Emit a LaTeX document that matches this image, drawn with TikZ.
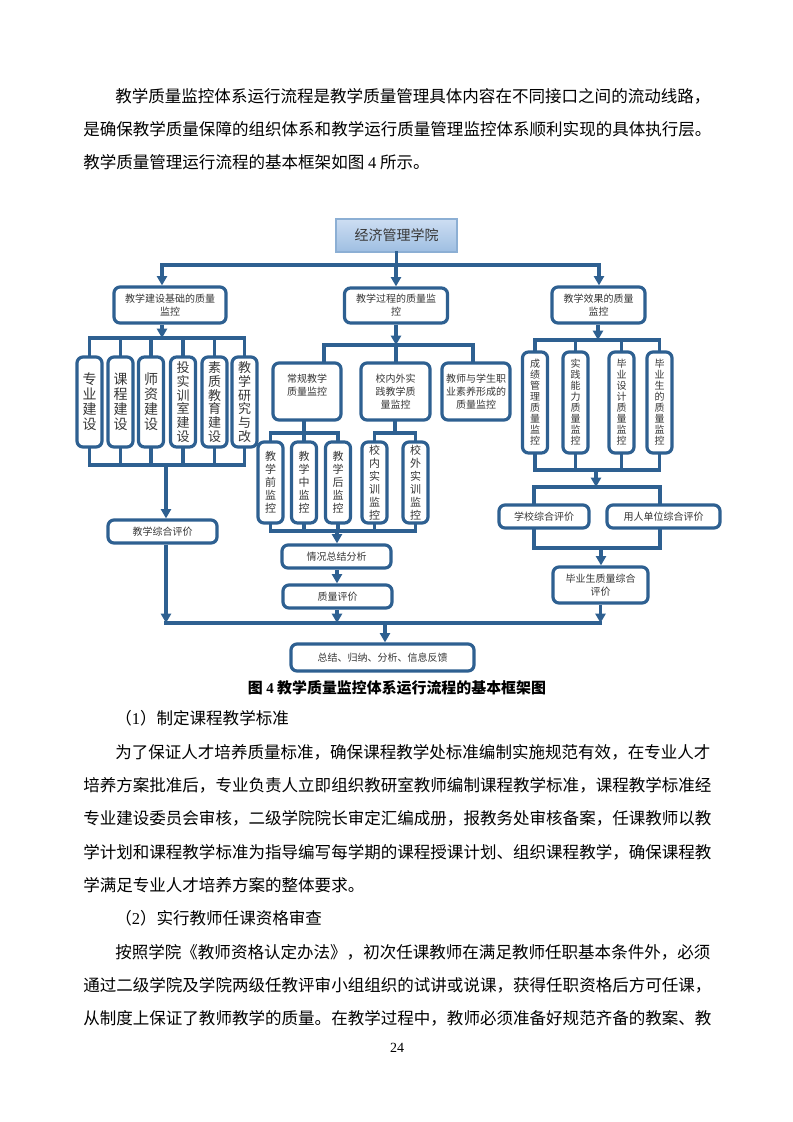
\documentclass[tikz,border=0pt]{standalone}
\usepackage{fontspec}
\newfontfamily\cjk{Noto Sans CJK SC}
\newfontfamily\lat{Liberation Serif}
\usetikzlibrary{arrows.meta}
\definecolor{dblue}{RGB}{46,96,145}
\definecolor{tgray}{RGB}{55,55,55}
\definecolor{topfillA}{RGB}{205,222,242}
\definecolor{topfillB}{RGB}{158,190,226}
\definecolor{topline}{RGB}{140,175,212}
\begin{document}
\begin{tikzpicture}[x=0.75pt,y=-0.75pt,
  box/.style={draw=dblue, line width=2.4pt, rounded corners=4.5pt, fill=white, inner sep=0pt, text=tgray, align=center},
  topbox/.style={draw=topline, line width=1.2pt, top color=topfillA, bottom color=topfillB, inner sep=0pt, text=tgray, font=\cjk\fontsize{10.5}{12}\selectfont},
  sz/.style 2 args={minimum width=#1*0.75pt, minimum height=#2*0.75pt},
  fA/.style={font=\cjk\fontsize{7.5}{9.6}\selectfont},
  fV/.style={font=\cjk\fontsize{10.5}{11.25}\selectfont},
  fVs/.style={font=\cjk\fontsize{9.75}{10.3}\selectfont},
  fS/.style={font=\cjk\fontsize{8.25}{9.75}\selectfont},
  fR/.style={font=\cjk\fontsize{7.5}{8.25}\selectfont},
  conn/.style={draw=dblue, line width=2.4pt, line cap=rect},
  arr/.style={draw=dblue, line width=2.4pt, -{Triangle[length=7pt,width=7.5pt]}},
  body/.style={font=\cjk\fontsize{12.4}{15}\selectfont, inner sep=0pt, anchor=west},
]
\useasboundingbox (0,0) rectangle (793,1122);

% ---------- body text ----------
\node[body] (p1) at (115,96) {教学质量监控体系运行流程是教学质量管理具体内容在不同接口之间的流动线路，};
\node[body] (p2) at (83,129) {是确保教学质量保障的组织体系和教学运行质量管理监控体系顺利实现的具体执行层。};
\node[body] (p3) at (83,162) {教学质量管理运行流程的基本框架如图 {\lat 4} 所示。};

\node[font=\cjk\bfseries\fontsize{11.2}{13}\selectfont, inner sep=0pt] (cap) at (397,688) {图 {\lat\bfseries 4} 教学质量监控体系运行流程的基本框架图};

\node[body] (q1) at (115,718) {（{\lat 1}）制定课程教学标准};
\node[body] (q2) at (115,752) {为了保证人才培养质量标准，确保课程教学处标准编制实施规范有效，在专业人才};
\node[body] (q3) at (83,785) {培养方案批准后，专业负责人立即组织教研室教师编制课程教学标准，课程教学标准经};
\node[body] (q4) at (83,818) {专业建设委员会审核，二级学院院长审定汇编成册，报教务处审核备案，任课教师以教};
\node[body] (q5) at (83,852) {学计划和课程教学标准为指导编写每学期的课程授课计划、组织课程教学，确保课程教};
\node[body] (q6) at (83,885) {学满足专业人才培养方案的整体要求。};
\node[body] (q7) at (115,918) {（{\lat 2}）实行教师任课资格审查};
\node[body] (q8) at (115,952) {按照学院《教师资格认定办法》，初次任课教师在满足教师任职基本条件外，必须};
\node[body] (q9) at (83,985) {通过二级学院及学院两级任教评审小组组织的试讲或说课，获得任职资格后方可任课，};
\node[body] (q10) at (83,1018) {从制度上保证了教师教学的质量。在教学过程中，教师必须准备好规范齐备的教案、教};
\node[font=\lat\fontsize{10.5}{12}\selectfont, inner sep=0pt] (pg) at (397,1048) {24};

% ---------- diagram nodes ----------
\node[topbox, sz={121}{33}] (top) at (396.5,235.5) {经济管理学院};
\node[box,sz={112}{36},fA] (A) at (170,305) {教学建设基础的质量\\监控};
\node[box,sz={103}{35},fA] (B) at (396,305.5) {教学过程的质量监\\控};
\node[box,sz={93}{36},fA] (C) at (598.5,305) {教学效果的质量\\监控};

\node[box,sz={25}{90},fV] (v1) at (89.5,402) {专\\业\\建\\设};
\node[box,sz={25}{90},fV] (v2) at (120.5,402) {课\\程\\建\\设};
\node[box,sz={25}{90},fV] (v3) at (151,402) {师\\资\\建\\设};
\node[box,sz={25}{90},fVs] (v4) at (183,402) {投\\实\\训\\室\\建\\设};
\node[box,sz={25}{90},fVs] (v5) at (214.5,402) {素\\质\\教\\育\\建\\设};
\node[box,sz={25}{90},fVs] (v6) at (244.5,402) {教\\学\\研\\究\\与\\改};

\node[box,sz={68}{57},fA] (m1) at (307,391.5) {常规教学\\质量监控\\\mbox{}};
\node[box,sz={69}{57},fA] (m2) at (395.5,391.5) {校内外实\\践教学质\\量监控};
\node[box,sz={68}{57},fA] (m3) at (476,391.5) {教师与学生职\\业素养形成的\\质量监控};

\node[box,sz={25}{81},fS] (w1) at (270.5,482.5) {教\\学\\前\\监\\控};
\node[box,sz={25}{81},fS] (w2) at (304,482.5) {教\\学\\中\\监\\控};
\node[box,sz={25}{81},fS] (w3) at (338,482.5) {教\\学\\后\\监\\控};
\node[box,sz={25}{81},fS] (w4) at (374.5,482.5) {校\\内\\实\\训\\监\\控};
\node[box,sz={25}{81},fS] (w5) at (415.5,482.5) {校\\外\\实\\训\\监\\控};

\node[box,sz={25}{101},fR] (r1) at (535,402.5) {成\\绩\\管\\理\\质\\量\\监\\控};
\node[box,sz={25}{101},fR] (r2) at (575.5,402.5) {实\\践\\能\\力\\质\\量\\监\\控};
\node[box,sz={25}{101},fR] (r3) at (621.5,402.5) {毕\\业\\设\\计\\质\\量\\监\\控};
\node[box,sz={25}{101},fR] (r4) at (659.5,402.5) {毕\\业\\生\\的\\质\\量\\监\\控};

\node[box,sz={109}{23},fA] (E) at (162.5,531.5) {教学综合评价};
\node[box,sz={109}{23},fA] (F) at (336.5,556.5) {情况总结分析};
\node[box,sz={109}{23},fA] (Q) at (337.5,596.5) {质量评价};
\node[box,sz={183}{27},fA] (S) at (382.5,657.5) {总结、归纳、分析、信息反馈};
\node[box,sz={90}{23},fA] (K1) at (544,516.5) {学校综合评价};
\node[box,sz={113}{23},fA] (K2) at (663.5,516.5) {用人单位综合评价};
\node[box,sz={95}{36},fA] (G) at (600.5,585) {毕业生质量综合\\评价};

% ---------- connectors ----------
\coordinate (jL) at (162,265);
\coordinate (jR) at (599,265);
\draw[conn] (top.south) -- (top.south |- jL);
\draw[conn] (jL) -- (jR);
\draw[arr] (jL) -- (jL |- A.north);
\draw[arr] (B.north |- jL) -- (B.north);
\draw[arr] (jR) -- (jR |- C.north);

% group A
\coordinate (aT) at (162,338);
\coordinate (aB) at (166,465);
\draw[arr] (A.south -| aT) -- (aT);
\draw[conn] (v1.north |- aT) -- (v6.north |- aT);
\draw[conn] (v1.south |- aB) -- (v6.south |- aB);
\foreach \v in {v1,v2,v3,v4,v5,v6}{
  \draw[conn] (\v.north |- aT) -- (\v.north);
  \draw[conn] (\v.south) -- (\v.south |- aB);
}
\draw[arr] (aB) -- (aB |- E.north);
\coordinate (mainL) at (166,623);
\coordinate (mainR) at (600.5,623);
\draw[conn] (mainL) -- (mainR);
\draw[arr] (E.south -| mainL) -- (mainL);

% group B
\coordinate (bT) at (396,345);
\coordinate (bTL) at (324,345);
\coordinate (bTR) at (473,345);
\draw[arr] (B.south) -- (bT);
\draw[conn] (bTL) -- (bTR);
\draw[conn] (bTL) -- (bTL |- m1.north);
\draw[conn] (bT) -- (bT |- m2.north);
\draw[conn] (bTR) -- (bTR |- m3.north);

\coordinate (c1) at (304,433);
\coordinate (c2) at (395,433);
\coordinate (c3) at (337,531);
\draw[conn] (m1.south -| c1) -- (c1);
\draw[conn] (w1.north |- c1) -- (w3.north |- c1);
\draw[conn] (m2.south -| c2) -- (c2);
\draw[conn] (w4.north |- c2) -- (w5.north |- c2);
\foreach \w in {w1,w2,w3}{\draw[conn] (\w.north |- c1) -- (\w.north);}
\foreach \w in {w4,w5}{\draw[conn] (\w.north |- c2) -- (\w.north);}
\foreach \w in {w1,w2,w3,w4,w5}{\draw[conn] (\w.south) -- (\w.south |- c3);}
\draw[conn] (w1.south |- c3) -- (w5.south |- c3);
\draw[arr] (c3) -- (c3 |- F.north);
\draw[arr] (F.south -| c3) -- (c3 |- Q.north);
\draw[arr] (Q.south -| c3) -- (c3 |- mainL);

% group C
\coordinate (dT) at (598,340);
\coordinate (dB) at (596,470);
\coordinate (dK) at (596,487);
\draw[arr] (C.south -| dT) -- (dT);
\draw[conn] (r1.north |- dT) -- (r4.north |- dT);
\draw[conn] (r1.south |- dB) -- (r4.south |- dB);
\foreach \r in {r1,r2,r3,r4}{
  \draw[conn] (\r.north |- dT) -- (\r.north);
  \draw[conn] (\r.south) -- (\r.south |- dB);
}
\draw[arr] (dB) -- (dK);
\coordinate (kL) at (534,487);
\coordinate (kR) at (660,487);
\coordinate (kL2) at (534,548);
\coordinate (kR2) at (660,548);
\coordinate (kM) at (601,548);
\draw[conn] (kL |- K1.north) -- (kL) -- (kR) -- (kR |- K2.north);
\draw[conn] (K1.south -| kL2) -- (kL2) -- (kR2) -- (K2.south -| kR2);
\draw[arr] (kM) -- (kM |- G.north);
\draw[arr] (G.south) -- (mainR);

% to summary
\coordinate (sT) at (385,623);
\draw[arr] (sT) -- (sT |- S.north);
\end{tikzpicture}
\end{document}
